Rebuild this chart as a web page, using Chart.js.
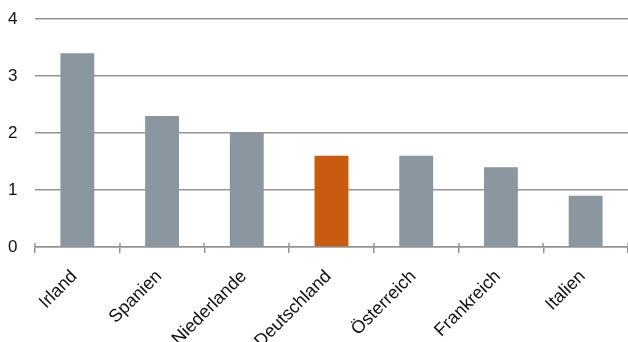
<!DOCTYPE html>
<html>
<head>
<meta charset="utf-8">
<script src="https://cdn.jsdelivr.net/npm/chart.js@4"></script>
<style>
  html, body { margin: 0; padding: 0; background: #fff; }
  #wrap { width: 628px; height: 342px; }
</style>
</head>
<body>
<div id="wrap"><canvas id="barChart"></canvas></div>
<script>
// Data
const countries = ["Irland", "Spanien", "Niederlande", "Deutschland", "Österreich", "Frankreich", "Italien"];
const values = [3.4, 2.3, 2.0, 1.6, 1.6, 1.4, 0.9];
const highlight = "Deutschland";
const yTicks = [0, 1, 2, 3, 4];

const grey = "#8a96a0";
const orange = "#c95b10";
const lineColor = "#949494";

// small tick marks that poke above the x axis line too
const crossTicks = {
    id: "crossTicks",
    afterDraw(chart) {
        const x = chart.scales.x;
        const c = chart.ctx;
        const bottom = chart.chartArea.bottom;
        c.save();
        c.strokeStyle = lineColor;
        c.lineWidth = 1.5;
        c.beginPath();
        for (let i = 0; i <= countries.length; i++) {
            const px = Math.round(x.left + (x.width / countries.length) * i);
            c.moveTo(px, bottom - 4);
            c.lineTo(px, bottom);
        }
        c.stroke();
        c.restore();
    },
};

const ctx = document.getElementById("barChart").getContext("2d");
const barChart = new Chart(ctx, {
    type: "bar",
    data: {
        labels: countries,
        datasets: [
            {
                data: values,
                backgroundColor: countries.map((c) => (c === highlight ? orange : grey)),
                borderWidth: 0,
                categoryPercentage: 1,
                barPercentage: 0.4,
            },
        ],
    },
    options: {
        responsive: true,
        maintainAspectRatio: false,
        animation: false,
        layout: {
            padding: { top: 19, left: 8, right: -2, bottom: 0 },
        },
        plugins: {
            legend: { display: false },
            tooltip: { enabled: false },
        },
        scales: {
            x: {
                afterFit(scale) {
                    scale.height = 95;
                },
                border: { display: true, color: lineColor, width: 1.5 },
                grid: {
                    offset: true,
                    drawOnChartArea: false,
                    drawTicks: true,
                    tickLength: 6,
                    color: lineColor,
                    lineWidth: 1.5,
                },
                ticks: {
                    autoSkip: false,
                    minRotation: 45,
                    maxRotation: 45,
                    padding: 13,
                    labelOffset: -3,
                    color: "#111",
                    font: { family: "Liberation Sans, Arial", size: 18 },
                },
            },
            y: {
                min: 0,
                max: 4,
                afterFit(scale) {
                    scale.width = 27;
                },
                afterBuildTicks(scale) {
                    scale.ticks = yTicks.map((v) => ({ value: v }));
                },
                border: { display: false },
                grid: {
                    drawTicks: false,
                    color: lineColor,
                    lineWidth: 1.5,
                },
                ticks: {
                    padding: 0,
                    crossAlign: "far",
                    color: "#111",
                    font: { family: "Liberation Sans, Arial", size: 17 },
                },
            },
        },
    },
    plugins: [crossTicks],
});
</script>
</body>
</html>
